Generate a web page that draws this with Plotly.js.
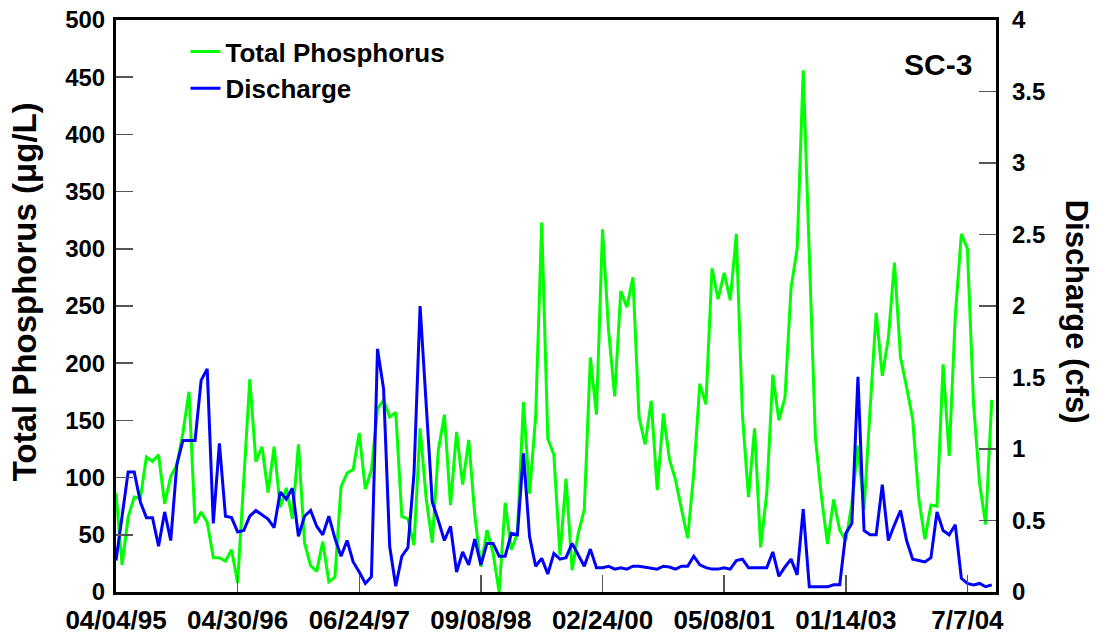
<!DOCTYPE html>
<html>
<head>
<meta charset="utf-8">
<script src="https://cdn.plot.ly/plotly-3.0.1.min.js"></script>
<style>html,body{margin:0;padding:0;background:#fff;}#chart{width:1099px;height:635px;}</style>
</head>
<body>
<div id="chart"></div>
<script>
// Total Phosphorus (ug/L), one value per sample
const totalPhosphorus = [
  86.5, 23.6, 65.6, 83, 82, 118, 114, 120, 77, 101,
  111, 139, 175, 60, 70, 61, 30, 30, 27, 37,
  8, 100, 186, 114, 127, 87, 127, 74, 91, 64,
  129, 43, 23, 18, 44, 9, 13, 92, 104, 107,
  139, 90, 107, 160, 168, 153, 157, 66, 64, 41,
  143, 82, 43, 124, 155, 76, 140, 94, 133, 67,
  22, 54, 34, 0, 78, 37, 51, 166, 86, 153,
  323, 134, 120, 32, 99, 19, 51, 72, 205, 155,
  317, 228, 171, 263, 249, 275, 153, 129, 167, 89,
  156, 116, 98, 72, 47, 104, 182, 164, 283, 256,
  279, 255, 313, 155, 83, 143, 39, 86, 190, 150,
  170, 266, 300, 456, 295, 135, 83, 42, 81, 54,
  45, 77, 128, 72, 160, 244, 189, 222, 288, 205,
  179, 151, 82, 46, 76, 75, 199, 119, 241, 313,
  300, 165, 95, 59, 168
];
// Discharge (cfs), one value per sample
const discharge = [
  0.22, 0.53, 0.84, 0.84, 0.63, 0.52, 0.52, 0.32, 0.56, 0.36,
  0.89, 1.06, 1.06, 1.06, 1.48, 1.56, 0.48, 1.04, 0.53, 0.52,
  0.42, 0.43, 0.53, 0.57, 0.54, 0.51, 0.45, 0.70, 0.65, 0.725,
  0.39, 0.53, 0.57, 0.46, 0.40, 0.53, 0.375, 0.25, 0.36, 0.21,
  0.14, 0.06, 0.107, 1.70, 1.42, 0.32, 0.04, 0.25, 0.31, 0.83,
  2.0, 1.34, 0.63, 0.50, 0.36, 0.46, 0.14, 0.28, 0.19, 0.37,
  0.19, 0.34, 0.34, 0.25, 0.25, 0.41, 0.40, 0.97, 0.387, 0.18,
  0.235, 0.126, 0.27, 0.23, 0.24, 0.34, 0.26, 0.18, 0.30, 0.17,
  0.17, 0.18, 0.16, 0.17, 0.16, 0.18, 0.18, 0.175, 0.165, 0.16,
  0.18, 0.175, 0.16, 0.18, 0.18, 0.25, 0.19, 0.17, 0.16, 0.16,
  0.17, 0.16, 0.22, 0.23, 0.17, 0.17, 0.17, 0.17, 0.28, 0.11,
  0.175, 0.23, 0.12, 0.58, 0.036, 0.036, 0.036, 0.036, 0.05, 0.05,
  0.41, 0.48, 1.505, 0.43, 0.40, 0.40, 0.75, 0.36, 0.47, 0.57,
  0.36, 0.23, 0.22, 0.21, 0.24, 0.56, 0.43, 0.40, 0.47, 0.096,
  0.06, 0.05, 0.06, 0.037, 0.05
];
// x-axis tick labels: sample dates shown every 20 samples
const tickSamples = [0, 20, 40, 60, 80, 100, 120, 140];
const tickLabels = ["04/04/95", "04/30/96", "06/24/97", "09/08/98", "02/24/00", "05/08/01", "01/14/03", "7/7/04"];
const siteName = "SC-3";

const sampleIndex = totalPhosphorus.map((_, i) => i);

const FONT = "Liberation Sans, Arial, Helvetica, sans-serif";

const traces = [
  {
    x: sampleIndex, y: totalPhosphorus, type: "scatter", mode: "lines",
    name: "Total Phosphorus", line: {color: "#00ff00", width: 3}, yaxis: "y"
  },
  {
    x: sampleIndex, y: discharge, type: "scatter", mode: "lines",
    name: "Discharge", line: {color: "#0000ff", width: 3}, yaxis: "y2"
  }
];

const layout = {
  width: 1099, height: 635,
  margin: {l: 116, r: 103, t: 20, b: 43},
  paper_bgcolor: "#fff", plot_bgcolor: "#fff",
  font: {family: FONT, color: "#000", weight: 700},
  showlegend: true,
  legend: {
    x: 0.079, y: 0.986, xanchor: "left", yanchor: "top",
    bgcolor: "rgba(0,0,0,0)", borderwidth: 0,
    font: {family: FONT, size: 26, color: "#000", weight: 700},
    tracegroupgap: 0
  },
  xaxis: {
    range: [0, 144.7], showgrid: false, zeroline: false,
    tickmode: "array", tickvals: tickSamples, ticktext: tickLabels,
    ticks: "inside", ticklen: 17, tickwidth: 1.5, tickcolor: "#555",
    showline: true, linecolor: "#000", linewidth: 3, mirror: true,
    ticklabelstandoff: 3,
    tickfont: {family: FONT, size: 26, color: "#000", weight: 700}
  },
  yaxis: {
    range: [0, 500], dtick: 50, showgrid: false, zeroline: false,
    ticks: "inside", ticklen: 17, tickwidth: 1.5, tickcolor: "#555",
    showline: true, linecolor: "#000", linewidth: 3, mirror: true,
    ticklabelstandoff: 3,
    tickfont: {family: FONT, size: 24, color: "#000", weight: 700}
  },
  yaxis2: {
    range: [0, 4], dtick: 0.5, overlaying: "y", side: "right",
    showgrid: false, zeroline: false,
    ticks: "inside", ticklen: 17, tickwidth: 1.5, tickcolor: "#555",
    showline: false, ticklabelstandoff: 15,
    tickfont: {family: FONT, size: 24, color: "#000", weight: 700}
  },
  annotations: [
    {text: "Total Phosphorus (μg/L)", xref: "paper", yref: "paper",
     x: -0.104, y: 0.525, textangle: -90, showarrow: false,
     xanchor: "center", yanchor: "middle",
     font: {family: FONT, size: 33, color: "#000", weight: 700}},
    {text: "Discharge (cfs)", xref: "paper", yref: "paper",
     x: 1.091, y: 0.49, textangle: 90, showarrow: false,
     xanchor: "center", yanchor: "middle",
     font: {family: FONT, size: 31, color: "#000", weight: 700}},
    {text: siteName, xref: "paper", yref: "paper",
     x: 0.934, y: 0.923, showarrow: false, xanchor: "center", yanchor: "middle",
     font: {family: FONT, size: 30, color: "#000", weight: 700}}
  ]
};

Plotly.newPlot("chart", traces, layout, {displayModeBar: false, staticPlot: true});
</script>
</body>
</html>
